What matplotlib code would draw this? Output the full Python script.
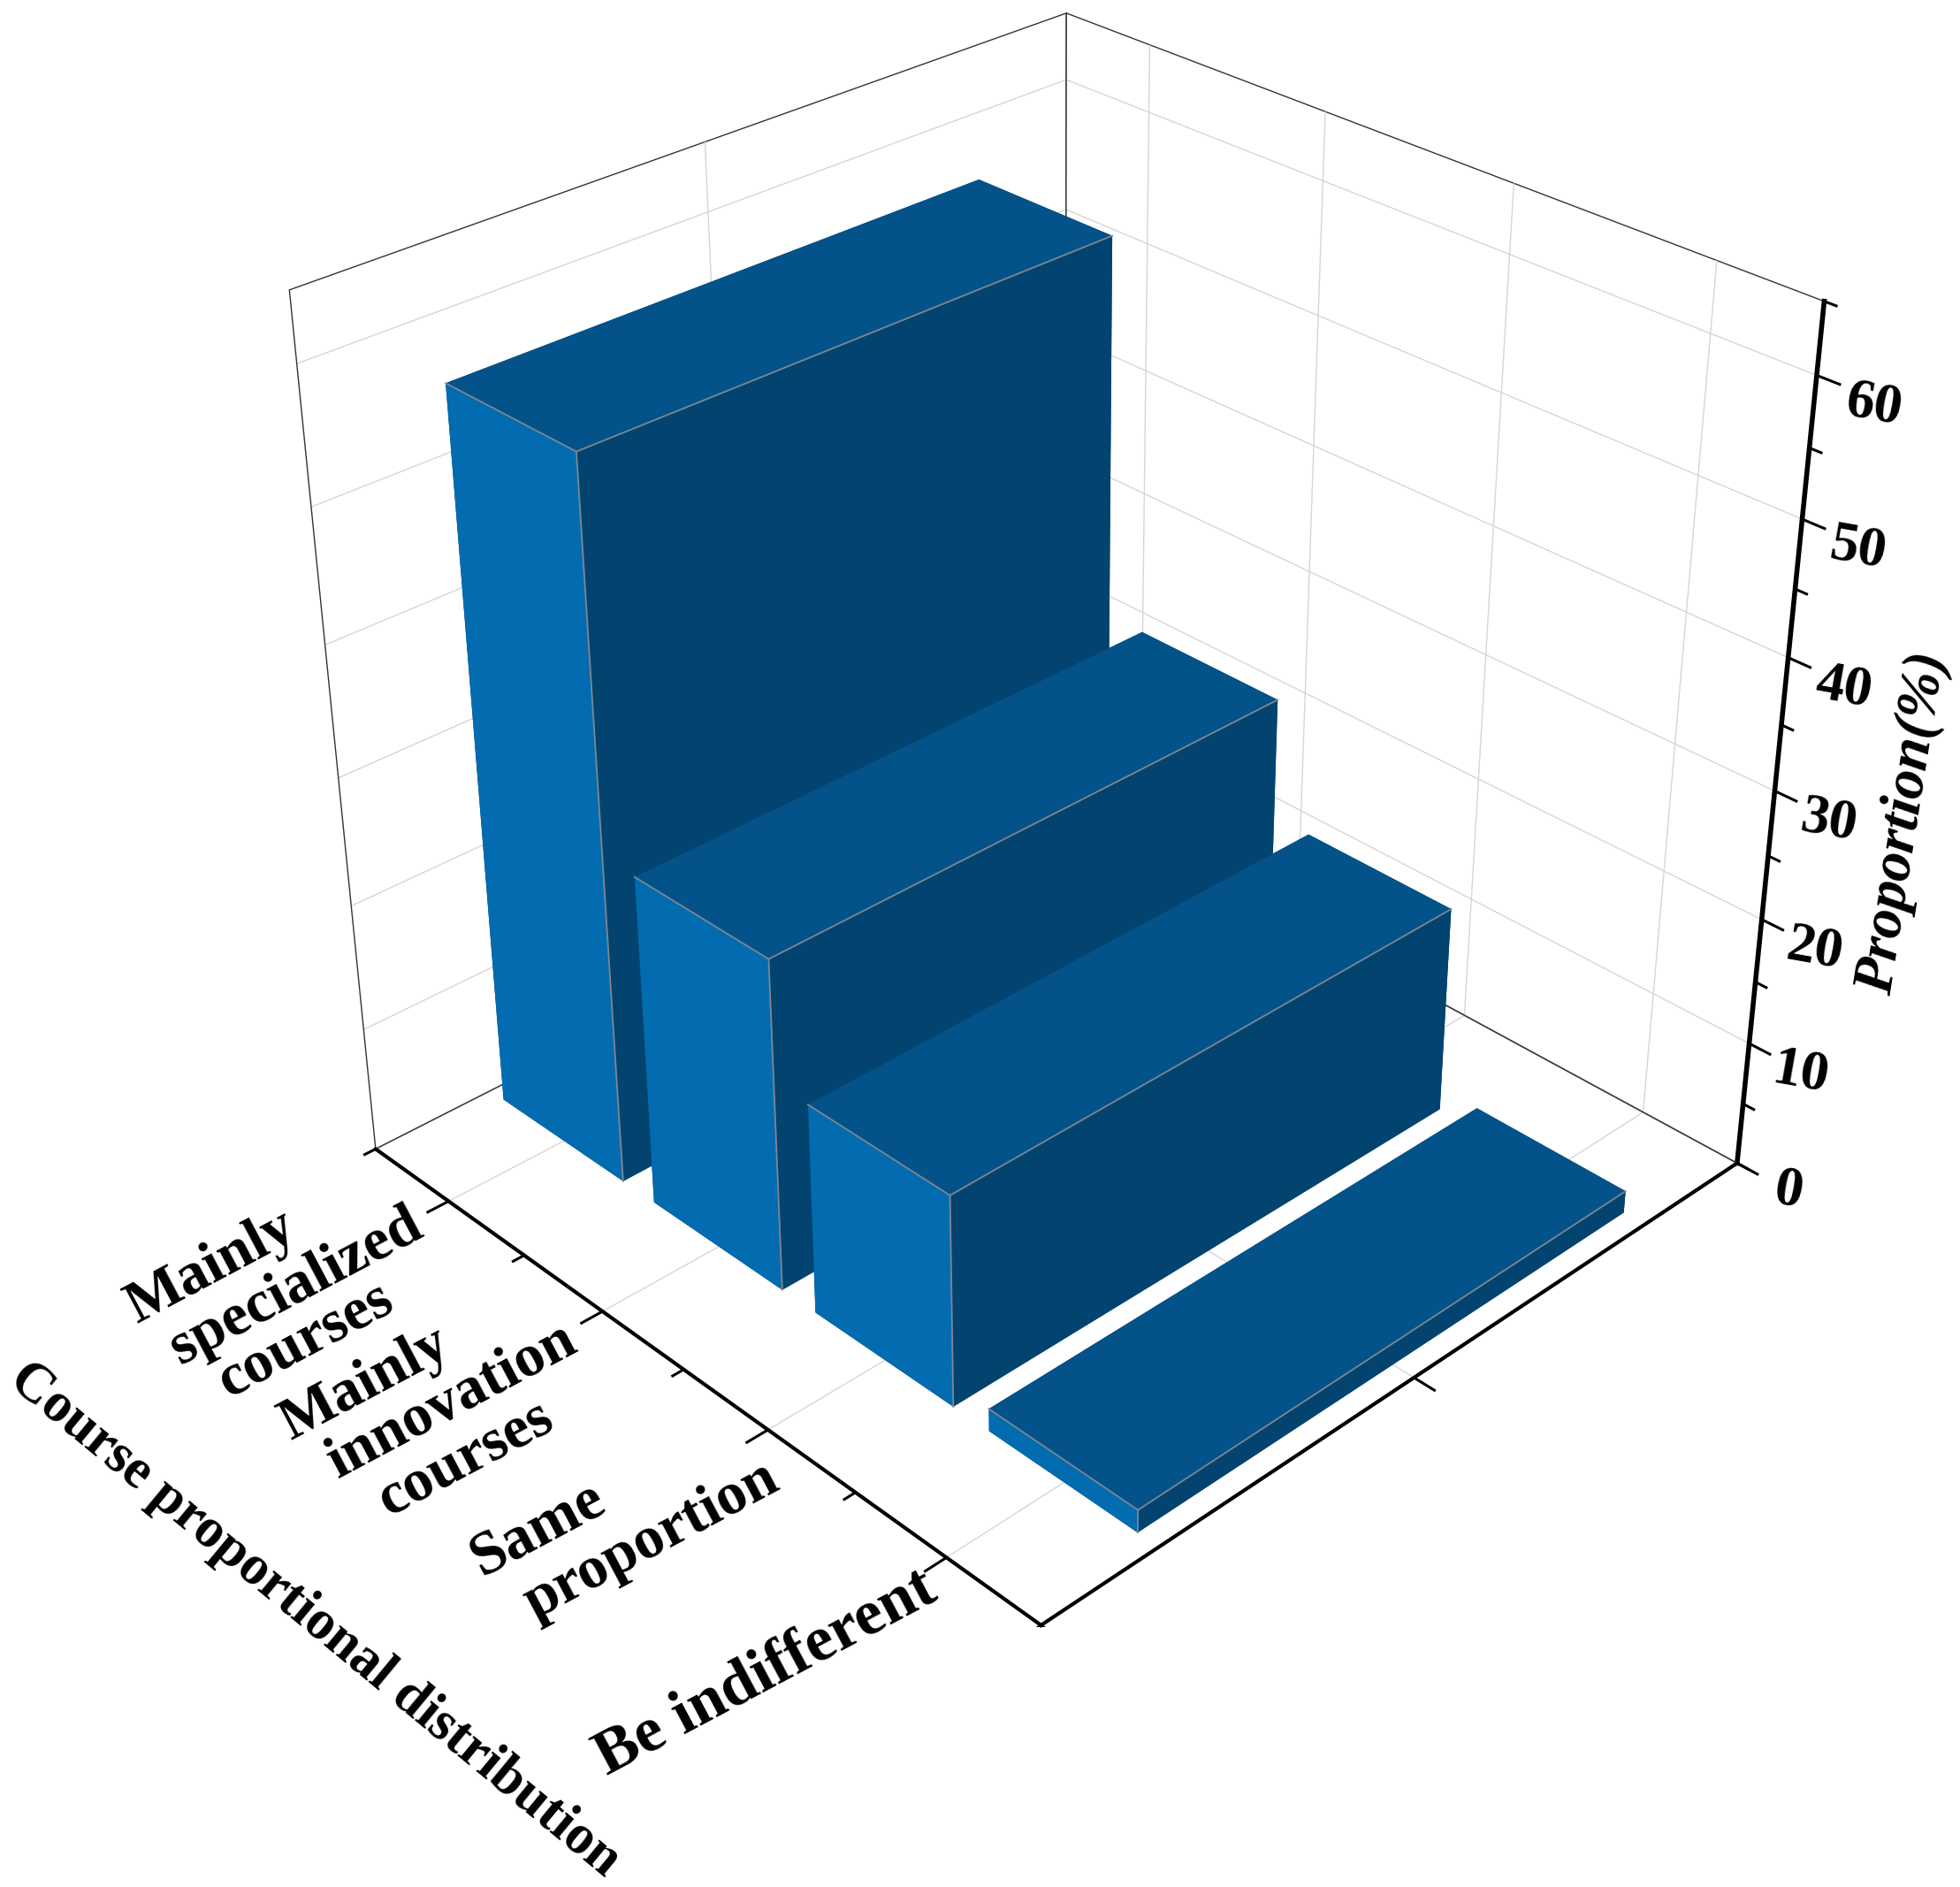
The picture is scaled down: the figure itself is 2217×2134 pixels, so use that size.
import matplotlib
matplotlib.use('Agg')
import matplotlib.pyplot as plt
from mpl_toolkits.mplot3d import proj3d

plt.rcParams['font.family'] = ['Liberation Serif', 'DejaVu Serif']
plt.rcParams['font.weight'] = 'bold'

category_lines = [['Mainly', 'specialized', 'courses'],
                  ['Mainly', 'innovation', 'courses'],
                  ['Same', 'proportion'],
                  ['Be indifferent']]
cat_pos = [1, 2, 3, 4]
proportion = [55.8, 26.2, 16.7, 1.8]
z_major = [0, 10, 20, 30, 40, 50, 60]
z_minor = [5, 15, 25, 35, 45, 55, 65]
x_minor = [0.5, 1.5, 2.5, 3.5, 4.5]

# pixel offset of each label line from its tick
line_offsets = [[(-268, -75), (-172, -97), (-162, -157)],
                [(-268, -82), (-170, -102), (-155, -166)],
                [(-260, -113), (-132, -126)],
                [(-204, -132)]]
line_sizes = [[49, 49, 49], [49, 49, 49], [50, 49], [52]]

bar_w = 0.8
bar_d = 0.7
bar_shift = -0.01
face_colors = ['#02426f', '#03528a', '#036bb0', '#02426f', '#02426f', '#02446f']
edge_col = '#7f8790'
frame_col = '#333333'

W, H = 2217, 2134
fig = plt.figure(figsize=(W / 100, H / 100), dpi=100)
S = 1928
ax = fig.add_axes([203 / W, 294 / H, S / W, S / H], projection='3d', computed_zorder=False)
ax.set_box_aspect((1, 1, 0.98))
ax.set_proj_type('persp', focal_length=0.467)
ax.view_init(elev=31, azim=-44)
ax.set_xlim(0.5, 4.5, view_margin=0)
ax.set_ylim(0.5, 1.5, view_margin=0)
ax.set_zlim(0, 65, view_margin=0)

# bars, back to front
for i, (c, v) in enumerate(zip(cat_pos, proportion)):
    x0 = c + bar_shift - bar_w / 2
    x1 = x0 + bar_w
    y0 = 1 - bar_d / 2
    y1 = y0 + bar_d
    bar = ax.bar3d(x0, y0, 0, bar_w, bar_d, v, color=face_colors, shade=False, linewidth=0)
    bar.set_zorder(2 + i)
    # only the inner edges are outlined
    kw = dict(color=edge_col, lw=1.3, zorder=2.5 + i)
    ax.plot([x1, x1], [y0, y0], [0, v], **kw)
    ax.plot([x0, x1], [y0, y0], [v, v], **kw)
    ax.plot([x1, x1], [y0, y1], [v, v], **kw)

# panes
for axis in (ax.xaxis, ax.yaxis, ax.zaxis):
    axis.set_pane_color((1, 1, 1, 1))
    axis.pane.set_edgecolor(frame_col)
    axis.pane.set_linewidth(1.0)
    axis._axinfo['grid'].update(color='#d6d6d6', linewidth=1.0, linestyle='-')
    axis._axinfo['tick'].update(inward_factor=0.33, outward_factor=0.0)
    axis._axinfo['tick']['linewidth'] = {True: 2.2, False: 2.2}
    axis.line.set_color('black')
ax.xaxis.line.set_linewidth(3)
ax.yaxis.line.set_linewidth(3)
ax.zaxis.line.set_linewidth(4)

# frame lines the open pane outlines miss, and floor edges the z=0 grid line would cover
ax.plot([0.5, 0.5], [0.5, 1.5], [0, 0], color=frame_col, lw=1.0, zorder=1)
ax.plot([0.5, 4.5], [1.5, 1.5], [0, 0], color=frame_col, lw=1.0, zorder=1)
ax.plot([0.5, 0.5], [0.5, 0.5], [0, 65], color=frame_col, lw=1.0, zorder=1)
ax.plot([0.5, 0.5], [1.5, 1.5], [0, 65], color=frame_col, lw=1.0, zorder=1)

# ticks
ax.set_xticks(cat_pos)
ax.set_xticklabels([''] * len(cat_pos))
ax.set_yticks([1])
ax.set_yticklabels([''])
ax.set_zticks(z_major)
ax.set_zticklabels([str(z) for z in z_major], fontsize=46, fontweight='bold', rotation=-10,
                   ha='center', va='top')
ax.tick_params(axis='z', pad=19)

# minor ticks are shorter, axis3d draws all ticks the same length
for x in x_minor:
    ax.plot([x, x], [0.5, 0.486], [0, 0], color='black', lw=2.2, zorder=1.5)
for z in z_minor:
    ax.plot([4.5, 4.555], [1.5, 1.5], [z, z], color='black', lw=2.2, zorder=1.5)
for y in (0.5, 1.5):
    ax.plot([4.5, 4.555], [y, y], [0, 0], color='black', lw=2.2, zorder=1.5)

# text follows the projected axes, offsets are in pixels
M = ax.get_proj()


def anchor(x, y, z):
    px, py, _ = proj3d.proj_transform(x, y, z, M)
    return (px, py)


for c, lines, offs, sizes in zip(cat_pos, category_lines, line_offsets, line_sizes):
    for line, off, size in zip(lines, offs, sizes):
        ax.annotate(line, xy=anchor(c, 0.5, 0), xytext=off, textcoords='offset pixels',
                    fontsize=size, fontweight='bold', rotation=28,
                    ha='center', va='center', rotation_mode='anchor')

ax.annotate('Course proportional distribution', xy=anchor(2.5, 0.5, 0), xytext=(-418, -284),
            textcoords='offset pixels', fontsize=45, fontweight='bold', rotation=-39.6,
            ha='center', va='center', rotation_mode='anchor')
ax.annotate('Proportion(%)', xy=anchor(4.5, 1.5, 30), xytext=(146, -36),
            textcoords='offset pixels', fontsize=47, fontweight='bold', style='italic',
            rotation=81, ha='center', va='center', rotation_mode='anchor')

fig.savefig('out.png', dpi=100, facecolor='white')
